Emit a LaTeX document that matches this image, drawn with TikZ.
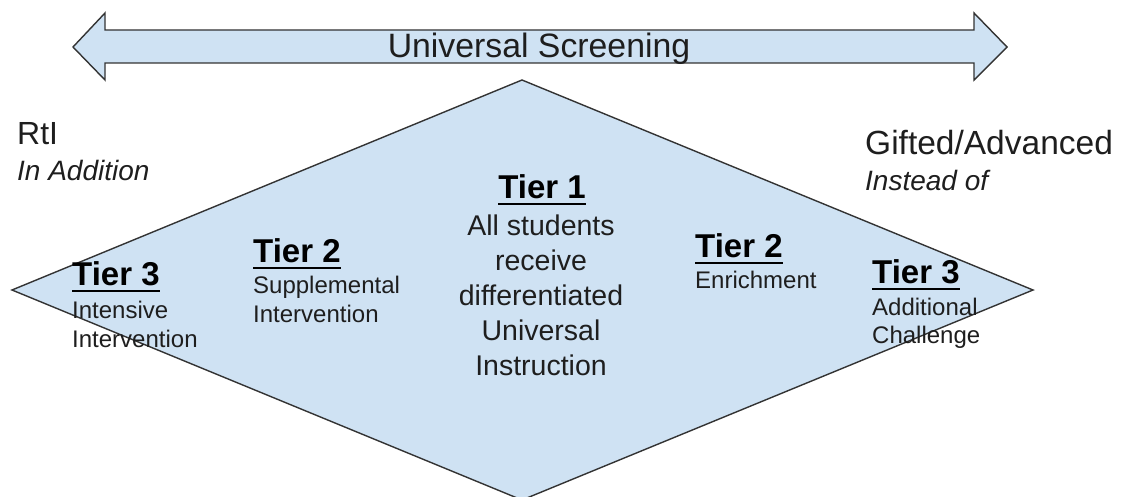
\documentclass[tikz,border=0pt]{standalone}
\usepackage{fontspec}
\setmainfont{Liberation Sans}
\definecolor{boxblue}{HTML}{CFE2F3}
\definecolor{edge}{HTML}{333333}
\definecolor{ink}{HTML}{1E1E1E}
\newcommand\mytierul[1]{\setbox0\hbox{#1}\rlap{\rule[-7pt]{\wd0}{2.4pt}}\box0}
\begin{document}
\begin{tikzpicture}[x=1pt,y=-1pt,
  shapefill/.style={fill=boxblue,draw=edge,line width=1.4pt,line join=miter},
  txt/.style={inner sep=0pt,anchor=base west,text=ink},
  ctxt/.style={inner sep=0pt,anchor=base,text=ink},
  big/.style={font=\fontsize{32}{38}\selectfont},
  ital/.style={font=\fontsize{28}{34}\selectfont\itshape},
  head/.style={font=\fontsize{33}{40}\selectfont\bfseries,text=black},
  body/.style={font=\fontsize{28.5}{34}\selectfont},
  small/.style={font=\fontsize{24}{29}\selectfont}]
\useasboundingbox (0,0) rectangle (1126,497);
% diamond
\coordinate (dl) at (12,290);
\coordinate (dt) at (522,80);
\coordinate (dr) at (1033,290);
\coordinate (db) at (522,500);
\draw[shapefill] (dl) -- (dt) -- (dr) -- (db) -- cycle;
% double arrow
\draw[shapefill] (73,47) -- (105,13) -- (105,30) -- (974,30) -- (974,13) -- (1007,47)
  -- (974,80) -- (974,63) -- (105,63) -- (105,80) -- cycle;
\node[ctxt,font=\fontsize{33.8}{40}\selectfont] (us) at (539,58) {Universal Screening};
% side labels
\node[txt,big] (rti) at (17,145) {RtI};
\node[txt,ital] (inadd) at (17,180) {In Addition};
\node[txt,font=\fontsize{33.5}{40}\selectfont] (gifted) at (865,155) {Gifted/Advanced};
\node[txt,ital] (instead) at (865,190) {Instead of};
% Tier 1
\node[ctxt,head] (t1) at (542,198) {\mytierul{Tier 1}};
\node[ctxt,body] (t1a) at (541,235) {All students};
\node[ctxt,body] (t1b) at (541,270) {receive};
\node[ctxt,body] (t1c) at (541,305) {differentiated};
\node[ctxt,body] (t1d) at (541,340) {Universal};
\node[ctxt,body] (t1e) at (541,375) {Instruction};
% left Tier 2
\node[txt,head] (l2) at (253,262) {\mytierul{Tier 2}};
\node[txt,small] (l2a) at (253,293) {Supplemental};
\node[txt,small] (l2b) at (253,322) {Intervention};
% left Tier 3
\node[txt,head] (l3) at (72,285) {\mytierul{Tier 3}};
\node[txt,small] (l3a) at (72,318) {Intensive};
\node[txt,small] (l3b) at (72,347) {Intervention};
% right Tier 2
\node[txt,head] (r2) at (695,257) {\mytierul{Tier 2}};
\node[txt,small] (r2a) at (695,288) {Enrichment};
% right Tier 3
\node[txt,head] (r3) at (872,283) {\mytierul{Tier 3}};
\node[txt,small] (r3a) at (872,315) {Additional};
\node[txt,small] (r3b) at (872,343) {Challenge};
\end{tikzpicture}
\end{document}
